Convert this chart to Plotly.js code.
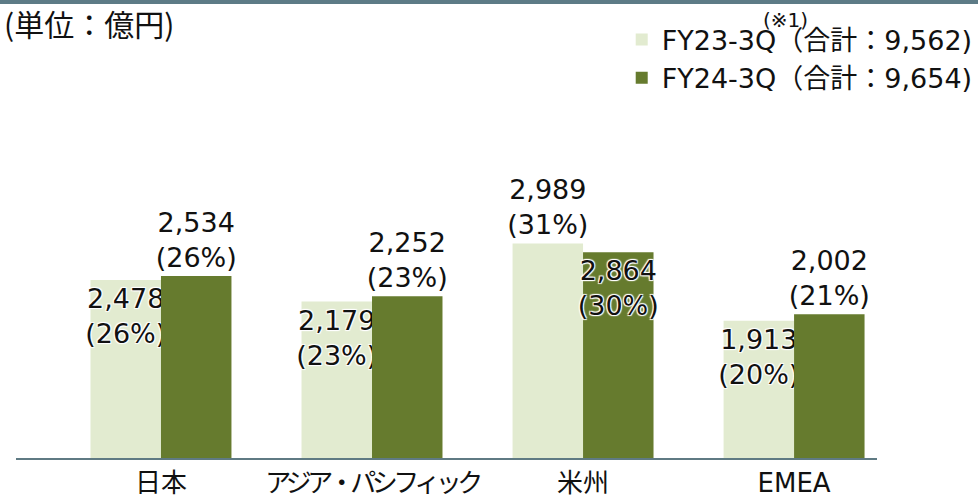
<!DOCTYPE html>
<html>
<head>
<meta charset="utf-8">
<script src="https://cdn.plot.ly/plotly-3.0.1.min.js"></script>
<style>html,body{margin:0;padding:0;background:#fff;}#chart{width:978px;height:495px;}</style>
</head>
<body>
<div id="chart"></div>
<script>
const categories = ['日本', 'アジア・パシフィック', '米州', 'EMEA'];
const fy23Values = [2478, 2179, 2989, 1913];
const fy24Values = [2534, 2252, 2864, 2002];
const fy23Shares = [26, 23, 31, 20];
const fy24Shares = [26, 23, 30, 21];
const seriesNames = ['FY23-3Q（合計：9,562)', 'FY24-3Q（合計：9,654)'];
const unitLabel = '(単位：億円)';
const noteLabel = '(※1)';

const FONT = 'DejaVu Sans, Noto Sans CJK JP, sans-serif';
const CJK = 'Noto Sans CJK JP, DejaVu Sans, sans-serif';

function labels(vals, shares) {
  return vals.map((v, i) => v.toLocaleString('en-US') + '<br>(' + shares[i] + '%)');
}
function positions(vals, other) {
  return vals.map((v, i) => v >= other[i] ? 'outside' : 'inside');
}
// long katakana labels are set tighter (the original font has proportional kana)
function tickText(c) {
  return c.length > 4 ? '<span style="letter-spacing:-4.5px">' + c + '</span>' : c;
}
const labelFont = {family: FONT, size: 27, color: '#111', shadow: 'auto'};

const traces = [
  {
    type: 'bar', name: seriesNames[0], x: categories, y: fy23Values,
    marker: {color: '#e2ebd0'},
    text: labels(fy23Values, fy23Shares),
    textposition: positions(fy23Values, fy24Values),
    textangle: 0, constraintext: 'none', cliponaxis: false,
    textfont: labelFont, insidetextfont: labelFont, outsidetextfont: labelFont,
    insidetextanchor: 'end', hoverinfo: 'skip'
  },
  {
    type: 'bar', name: seriesNames[1], x: categories, y: fy24Values,
    marker: {color: '#667b2e'},
    text: labels(fy24Values, fy24Shares),
    textposition: positions(fy24Values, fy23Values),
    textangle: 0, constraintext: 'none', cliponaxis: false,
    textfont: labelFont, insidetextfont: labelFont, outsidetextfont: labelFont,
    insidetextanchor: 'end', hoverinfo: 'skip'
  }
];

const layout = {
  width: 978, height: 495,
  margin: {l: 16, r: 101, t: 100, b: 37, pad: 0, autoexpand: false},
  paper_bgcolor: '#fff', plot_bgcolor: '#fff',
  font: {family: FONT, color: '#111'},
  barmode: 'group', bargap: 0.332, bargroupgap: 0,
  showlegend: true,
  legend: {
    x: 0.7035, xanchor: 'left', y: 1.236, yanchor: 'top',
    font: {family: FONT, size: 27, color: '#111'},
    bgcolor: 'rgba(0,0,0,0)', tracegroupgap: 0, itemwidth: 30
  },
  title: {
    text: unitLabel, x: 4 / 978, xanchor: 'left', xref: 'container',
    y: 1 - 25 / 495, yanchor: 'middle', yref: 'container',
    font: {family: CJK, size: 30, color: '#111'}
  },
  xaxis: {
    type: 'category', range: [-0.687, 3.393], fixedrange: true,
    tickmode: 'array', tickvals: categories, ticktext: categories.map(tickText),
    showline: true, linecolor: '#5f7a83', linewidth: 2,
    showgrid: false, zeroline: false, ticks: '',
    ticklabelstandoff: 1,
    tickfont: {family: FONT, size: 26, color: '#111'}
  },
  yaxis: {
    range: [0, 4986], visible: false, showgrid: false, zeroline: false, fixedrange: true
  },
  shapes: [{
    type: 'rect', xref: 'paper', yref: 'paper', x0: -0.1, x1: 1.2,
    ysizemode: 'pixel', yanchor: 1 + 100 / 358, y0: -4, y1: 1,
    fillcolor: '#5d7b86', line: {width: 0}
  }],
  annotations: [{
    text: noteLabel, xref: 'paper', yref: 'paper', x: 0.894, y: 1 + 80 / 358,
    xanchor: 'center', yanchor: 'middle', showarrow: false,
    font: {family: FONT, size: 20, color: '#111'}
  }]
};

Plotly.newPlot('chart', traces, layout, {displayModeBar: false, staticPlot: true});
</script>
</body>
</html>
